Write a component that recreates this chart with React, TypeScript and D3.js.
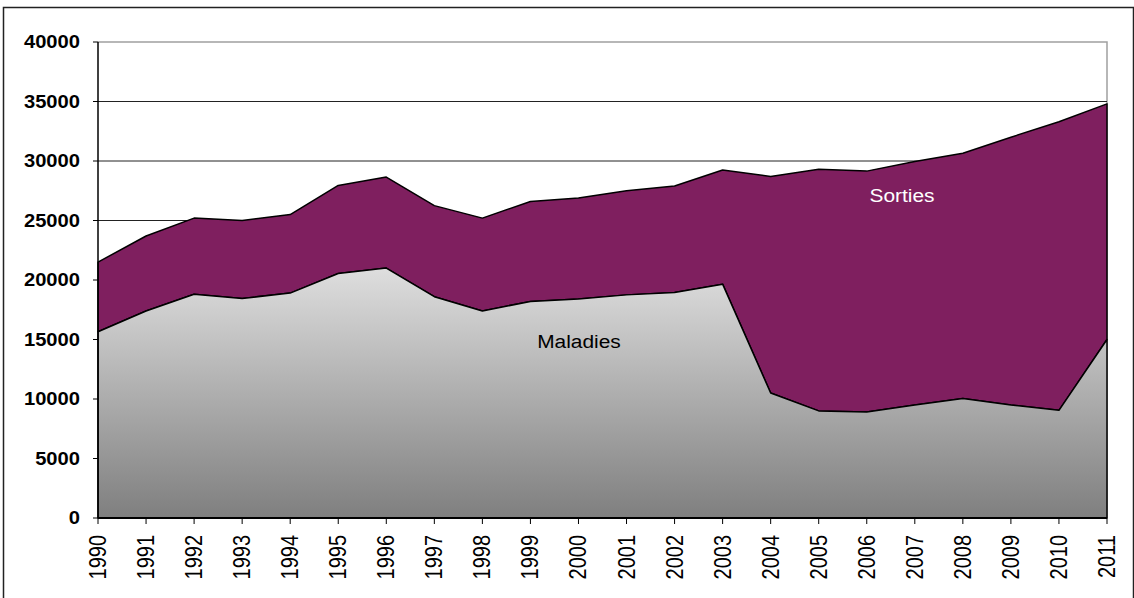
import React from "react";
import * as d3 from "d3";

const years = [1990, 1991, 1992, 1993, 1994, 1995, 1996, 1997, 1998, 1999, 2000, 2001, 2002, 2003, 2004, 2005, 2006, 2007, 2008, 2009, 2010, 2011];
const maladies = [15650, 17400, 18800, 18450, 18900, 20550, 21000, 18600, 17400, 18200, 18400, 18750, 18950, 19650, 10500, 9000, 8900, 9500, 10050, 9500, 9050, 15000];
const sorties = [5850, 6300, 6400, 6550, 6600, 7400, 7650, 7650, 7800, 8400, 8500, 8750, 8950, 9600, 18200, 20300, 20250, 20450, 20600, 22500, 24250, 19800];
const yTicks = [0, 5000, 10000, 15000, 20000, 25000, 30000, 35000, 40000];

const W = 1134, H = 598;
const L = 98, R = 1107, T = 42, B = 518;

export default function App() {
  const x = d3.scaleLinear().domain([years[0], years[years.length - 1]]).range([L, R]);
  const y = d3.scaleLinear().domain([0, 40000]).range([B, T]);
  const rows = years.map((yr, i) => ({ yr, m: maladies[i], s: sorties[i] }));
  const areaM = d3.area<any>().x(d => x(d.yr)).y0(y(0)).y1(d => y(d.m));
  const areaS = d3.area<any>().x(d => x(d.yr)).y0(d => y(d.m)).y1(d => y(d.m + d.s));
  const font = "Arial, 'Liberation Sans', sans-serif";
  return (
    <svg width={W} height={H} style={{ position: "absolute", left: 0, top: 0 }}>
      <defs>
        <linearGradient id="gM" x1="0" y1="0" x2="0" y2="1">
          <stop offset="0" stopColor="#dedede" />
          <stop offset="1" stopColor="#7f7f7f" />
        </linearGradient>
      </defs>
      <rect x={0} y={0} width={W} height={H} fill="#fff" />
      <rect x={3.5} y={7.5} width={1130} height={600} fill="none" stroke="#222" strokeWidth={1.5} />
      {/* plot border top/right */}
      <path d={`M${L},${T}H${R}V${B}`} fill="none" stroke="#a0a0a0" strokeWidth={1.5} />
      {yTicks.filter(t => t > 0 && t < 40000).map(t => (
        <line key={t} x1={L} x2={R} y1={y(t)} y2={y(t)} stroke="#222" strokeWidth={1} />
      ))}
      <path d={areaS(rows) + "Z"} fill="#7f1f5f" stroke="#000" strokeWidth={1.5} strokeLinejoin="round" />
      <path d={areaM(rows) + "Z"} fill="url(#gM)" stroke="#000" strokeWidth={1.5} strokeLinejoin="round" />
      {/* axes */}
      <line x1={L} x2={L} y1={T} y2={B} stroke="#000" strokeWidth={1.5} />
      <line x1={L} x2={R} y1={B} y2={B} stroke="#000" strokeWidth={2} />
      {yTicks.map(t => (
        <g key={t}>
          <line x1={L - 5} x2={L} y1={y(t)} y2={y(t)} stroke="#000" strokeWidth={1} />
          <text transform={`translate(80,${y(t)}) scale(1.12,1)`} textAnchor="end" dominantBaseline="central"
            fontFamily={font} fontWeight="bold" fontSize={18} fill="#000">{t}</text>
        </g>
      ))}
      {years.map(yr => (
        <g key={yr}>
          <line x1={x(yr)} x2={x(yr)} y1={B} y2={B + 6} stroke="#000" strokeWidth={1} />
          <text transform={`translate(${x(yr)},535) scale(1.15,1) rotate(-90)`} textAnchor="end" dominantBaseline="central"
            fontFamily={font} fontSize={20} fill="#000">{yr}</text>
        </g>
      ))}
      <text transform={`translate(579,348) scale(1.1,1)`} textAnchor="middle" fontFamily={font} fontSize={19} fill="#000">Maladies</text>
      <text transform={`translate(902,202) scale(1.1,1)`} textAnchor="middle" fontFamily={font} fontSize={19} fill="#fff">Sorties</text>
    </svg>
  );
}
